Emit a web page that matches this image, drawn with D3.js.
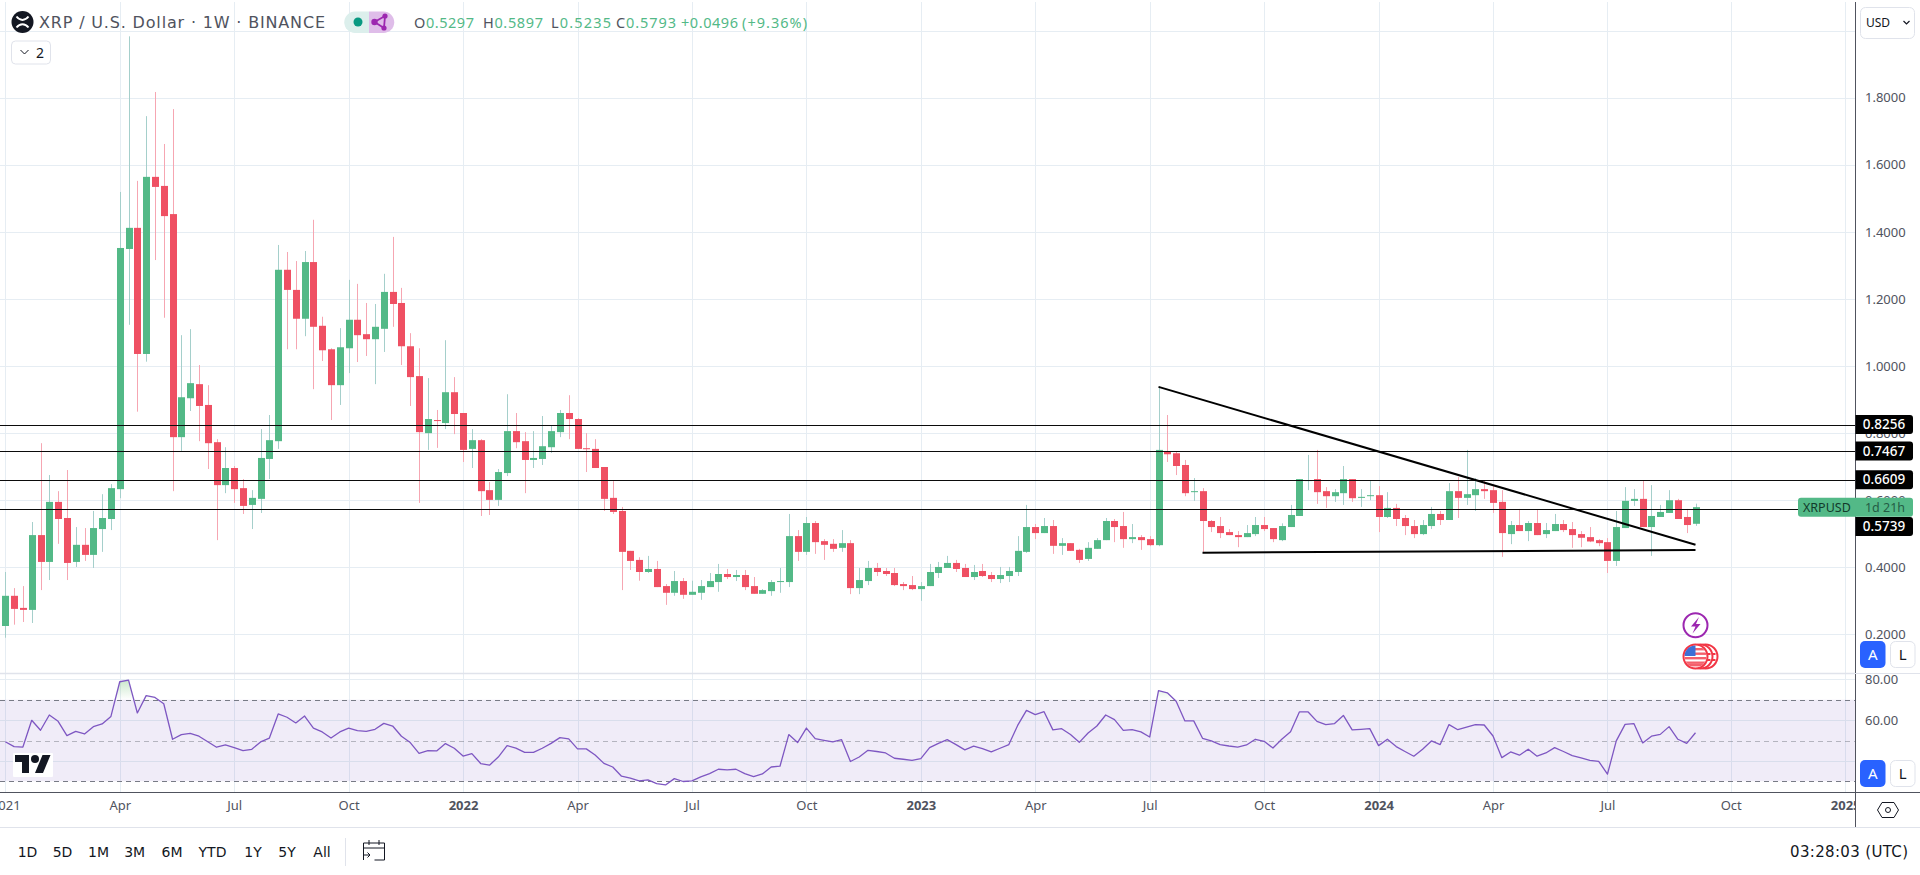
<!DOCTYPE html>
<html>
<head>
<meta charset="utf-8">
<title>XRP / U.S. Dollar 1W</title>
<script src="https://cdnjs.cloudflare.com/ajax/libs/d3/7.8.5/d3.min.js"></script>
<style>
html,body{margin:0;padding:0;background:#fff;overflow:hidden}
svg{display:block}
text{font-family:"Noto Sans",Roboto,sans-serif}
text.dv{font-family:"DejaVu Sans",sans-serif}
</style>
</head>
<body>
<svg id="chart" width="1920" height="875"></svg>
<script>
// ---- weekly candles (index 0 = week of 4 Jan 2021) ----
const opens=[.225,.315,.279,.273,.496,.416,.595,.547,.416,.467,.437,.514,.544,.633,1.349,1.412,1.036,1.564,1.537,1.453,.788,.904,.946,.884,.773,.645,.696,.636,.586,.604,.723,.776,1.287,1.227,1.141,1.31,1.12,1.05,.943,1.053,1.138,1.095,1.08,1.111,1.221,1.188,1.059,.97,.8,.839,.83,.922,.86,.753,.779,.63,.601,.681,.806,.776,.72,.723,.758,.803,.86,.842,.755,.753,.699,.607,.568,.449,.422,
.386,.395,.344,.324,.359,.318,.324,.341,.356,.38,.371,.377,.344,.321,.329,.356,.356,.493,.446,.532,.478,.47,.458,.472,.338,.359,.398,.389,.383,.35,.347,.335,.344,.383,.398,.413,.398,.371,.389,.377,.365,.374,.386,.446,.52,.502,.523,.464,.472,.452,.425,.455,.481,.538,.523,.484,.49,.484,.466,.746,.74,.705,.624,.627,.538,.523,.505,.496,.49,.499,.526,.517,.481,.52,.553,.657,.663,.627,.612,.621,.663,.607,.612,.615,.55,.577,.547,.523,.499,.523,.559,.541,.627,.607,.615,.633,.63,.595,.499,.526,.508,.532,.499,.508,.529,.514,.499,.49,.481,.475,.419,.517,.598,.604,.52,.55,.562,.6,.55,.5297];
const highs=[.386,.338,.344,.535,.77,.675,.627,.69,.52,.517,.568,.618,.648,1.519,1.983,1.552,1.745,1.817,1.662,1.766,1.092,1.11,1.003,.943,.782,.758,.702,.663,.63,.812,.854,1.361,1.34,1.313,1.343,1.436,1.147,1.053,1.113,1.257,1.245,1.188,1.185,1.275,1.385,1.233,1.098,1.053,.964,.869,1.077,.967,.86,.812,.782,.654,.693,.916,.86,.803,.806,.851,.824,.869,.913,.845,.8,.782,.699,.657,.58,.449,.43,
.434,.419,.35,.389,.368,.36,.362,.383,.41,.395,.392,.392,.371,.335,.362,.398,.559,.511,.55,.538,.484,.484,.511,.481,.398,.419,.413,.398,.398,.356,.374,.356,.41,.416,.434,.422,.41,.407,.41,.386,.401,.401,.493,.586,.529,.547,.541,.487,.472,.455,.475,.487,.547,.544,.565,.529,.496,.493,.938,.854,.746,.72,.666,.636,.541,.55,.514,.508,.526,.55,.55,.517,.531,.586,.663,.735,.75,.639,.633,.702,.663,.633,.66,.642,.624,.589,.556,.541,.541,.58,.568,.651,.669,.75,.666,.66,.645,.63,.538,.574,.538,.571,.532,.559,.541,.535,.508,.52,.484,.487,.568,.639,.633,.66,.645,.586,.63,.604,.574,.5897];
const lows=[.19,.229,.237,.234,.332,.362,.47,.362,.401,.419,.398,.446,.511,.606,1.123,.864,1.013,1.316,1.144,.627,.747,.866,.776,.693,.481,.621,.592,.559,.514,.562,.663,.753,1.05,1.05,1.089,.931,1.015,.839,.884,.979,1.012,1.03,.946,1.042,1.117,1.003,.881,.592,.75,.756,.812,.797,.714,.696,.553,.556,.583,.672,.755,.621,.696,.705,.741,.788,.782,.753,.684,.696,.568,.559,.332,.392,.36,
.383,.341,.288,.315,.306,.318,.303,.341,.327,.365,.359,.332,.321,.321,.315,.324,.341,.419,.437,.44,.422,.446,.446,.32,.32,.347,.374,.374,.344,.332,.332,.3,.344,.368,.398,.386,.371,.362,.371,.356,.353,.356,.374,.443,.484,.502,.44,.437,.449,.413,.419,.455,.481,.475,.458,.472,.452,.463,.463,.714,.675,.612,.598,.446,.505,.487,.496,.46,.49,.493,.508,.475,.478,.52,.553,.63,.589,.577,.595,.586,.595,.58,.6,.505,.547,.523,.496,.487,.496,.514,.526,.541,.547,.586,.568,.604,.562,.431,.469,.508,.478,.496,.487,.508,.505,.458,.46,.475,.463,.383,.404,.517,.583,.52,.434,.55,.562,.544,.502,.5235];
const closes=[.315,.276,.273,.496,.416,.595,.544,.413,.467,.437,.517,.547,.636,1.352,1.412,1.036,1.564,1.534,1.447,.788,.907,.949,.881,.77,.645,.696,.633,.583,.607,.726,.779,1.287,1.227,1.141,1.31,1.117,1.047,.943,1.056,1.138,1.092,1.08,1.117,1.221,1.185,1.059,.967,.803,.842,.836,.922,.857,.75,.779,.627,.601,.684,.806,.773,.72,.726,.761,.806,.86,.842,.753,.752,.696,.604,.565,.446,.419,.386,
.395,.341,.324,.359,.318,.327,.344,.359,.38,.371,.377,.341,.321,.332,.356,.359,.493,.446,.532,.475,.467,.455,.472,.338,.362,.398,.386,.38,.347,.344,.335,.344,.386,.401,.413,.395,.371,.386,.374,.365,.377,.389,.449,.52,.502,.523,.464,.472,.449,.422,.458,.481,.538,.52,.484,.49,.481,.466,.75,.737,.702,.621,.627,.538,.52,.502,.496,.49,.502,.526,.514,.484,.523,.556,.663,.66,.624,.612,.624,.663,.606,.61,.615,.55,.577,.544,.523,.499,.526,.559,.541,.627,.607,.618,.633,.627,.592,.502,.526,.508,.532,.496,.511,.529,.511,.496,.488,.477,.472,.419,.52,.598,.604,.52,.553,.565,.6,.544,.526,.5793];
// ---- RSI, one value per candle ----
const rsiValues=[49.4,47,46.8,59.9,55,62.5,59.4,52.4,54.5,53.2,56.8,58.1,61.8,78.8,79.6,63.5,72,71.1,68,50.6,52.9,53.5,52.1,49.4,46.7,47.8,46.5,45,45.7,49.3,51.2,63,61.4,58.6,62,56.1,54.2,51.2,54.2,56.1,54.8,54.5,55.5,58.4,57.1,52.1,49,43.7,45,44.9,48.5,46.2,42.4,43.6,38.7,37.9,41.9,47.5,46.3,44.2,44.2,46.2,48.6,51.4,50.8,45.9,
45.9,42.9,38.8,37,32.5,31.5,30.2,30.7,28.9,28.2,31.3,29.9,30.2,32.2,33.8,35.9,35.6,35.9,33.8,32.3,33.6,37,37.4,52.9,49,56.1,50.9,50.1,49.3,50.4,39.7,41.9,45.2,44.6,43.9,41.3,40.8,40.3,41.1,46.5,48.6,50.4,48,45.4,47.2,46,44.4,46.2,48,57.4,64.8,62.7,64.1,55.2,55.8,52.9,49.1,53.7,57.1,62.5,60.2,55,55.3,54.2,51.7,
74.4,73.4,69.2,59.6,59.6,51.1,49.8,48,47.3,46.8,47.8,50.6,49.6,46.3,50.6,54.3,64,64,59.4,57.8,58.3,62.3,55.2,55.5,55.8,47.5,50.6,47,44.6,42.3,45.7,49.8,48,57.8,55.3,56.5,57.8,57.6,52.2,41.6,44.4,42.8,45.7,42.3,43.9,46.5,44.6,42.6,41.5,40.3,39.8,33.5,49.8,57.9,58.3,48.8,52.1,53,56.8,50.6,48.6,53.8];
// ---- axes and annotations ----
const priceTicks=[1.8,1.6,1.4,1.2,1.0,0.8,0.6,0.4,0.2,2.0];
const rsiTicks=[80,60,40];
const rsiLabelTicks=[80,60];
const rsiBands=[70,50,30];
const timeTickIdx=[0,13,26,39,52,65,78,91,104,117,130,143,156,169,182,196,209];
const timeTickText=["2021","Apr","Jul","Oct","2022","Apr","Jul","Oct","2023","Apr","Jul","Oct","2024","Apr","Jul","Oct","2025"];
const levels=[0.8256,0.7467,0.6609,0.5739];
const levelLabelShift=[0,0,0,17.6];
const trendFalling=[[131,0.938],[192,0.4673]];
const trendFlat=[[136,0.4435],[192,0.4515]];
const lastPrice=0.5793;
const ohlcItems=[["O","0.5297",414],["H","0.5897",483],["L","0.5235",551],["C","0.5793",616]];
const rangeButtons=["1D","5D","1M","3M","6M","YTD","1Y","5Y","All"];
const rangeCenters=[27.5,62.5,98.6,134.7,172,212.5,253,287,322];

const GREEN="#53b987",RED="#ef5063",GREENW="#a5cfcb",REDW="#f6a6b2";
const GRID="#e6edf3",TEXT="#50535e",DARK="#131722",AXISLINE="#50535e";
const AXISX=1855;

const svg=d3.select("#chart");
const defs=svg.append("defs");
defs.append("clipPath").attr("id","mainClip").append("rect").attr("x",0).attr("y",2).attr("width",AXISX).attr("height",671);
defs.append("clipPath").attr("id","rsiClip").append("rect").attr("x",0).attr("y",674).attr("width",AXISX).attr("height",118);

const x=d3.scaleLinear().domain([0,192]).range([5.3,1695.5]);
const y=d3.scaleLinear().domain([0.4,1.8]).range([567.3,97.7]);
const ry=d3.scaleLinear().domain([30,80]).range([781.3,679.3]);

// vertical grid, both panes
const vg=svg.append("g");
vg.selectAll("line").data(timeTickIdx).join("line")
  .attr("x1",d=>Math.round(x(d))+.5).attr("x2",d=>Math.round(x(d))+.5)
  .attr("y1",2).attr("y2",792).attr("stroke",GRID);

// main pane
const main=svg.append("g").attr("clip-path","url(#mainClip)");
main.append("g").selectAll("line").data(priceTicks).join("line")
  .attr("x1",0).attr("x2",AXISX).attr("y1",d=>Math.round(y(d))+.5).attr("y2",d=>Math.round(y(d))+.5)
  .attr("stroke",GRID);

const idx=d3.range(opens.length);
const isUp=i=>closes[i]>=opens[i];
const bodyW=7;
const cx=i=>Math.round(x(i));
main.append("g").selectAll("line").data(idx).join("line")
  .attr("x1",i=>cx(i)+.5).attr("x2",i=>cx(i)+.5)
  .attr("y1",i=>y(highs[i])).attr("y2",i=>y(lows[i]))
  .attr("stroke",i=>isUp(i)?GREENW:REDW);
main.append("g").selectAll("rect").data(idx).join("rect")
  .attr("x",i=>cx(i)-3).attr("width",bodyW)
  .attr("y",i=>Math.min(y(opens[i]),y(closes[i])))
  .attr("height",i=>Math.max(1,Math.abs(y(opens[i])-y(closes[i]))))
  .attr("fill",i=>isUp(i)?GREEN:RED);

// drawn levels and trend lines
main.append("g").selectAll("line").data(levels).join("line")
  .attr("x1",0).attr("x2",AXISX).attr("y1",d=>Math.round(y(d))+.5).attr("y2",d=>Math.round(y(d))+.5)
  .attr("stroke","#0b0b0b");
const tl=d3.line().x(d=>x(d[0])).y(d=>y(d[1]));
main.append("path").attr("d",tl(trendFalling)).attr("stroke","#000").attr("stroke-width",2).attr("fill","none");
main.append("path").attr("d",tl(trendFlat)).attr("stroke","#000").attr("stroke-width",2).attr("fill","none");

// pane separator
svg.append("line").attr("x1",0).attr("x2",AXISX).attr("y1",673.5).attr("y2",673.5).attr("stroke","#e0e3eb").attr("stroke-width",1.5);

// RSI pane
const rsi=svg.append("g").attr("clip-path","url(#rsiClip)");
rsi.append("rect").attr("x",0).attr("width",AXISX).attr("y",ry(70)).attr("height",ry(30)-ry(70)).attr("fill","#7e57c2").attr("fill-opacity",.115);
rsi.append("g").selectAll("line").data(rsiTicks).join("line")
  .attr("x1",0).attr("x2",AXISX).attr("y1",d=>Math.round(ry(d))+.5).attr("y2",d=>Math.round(ry(d))+.5)
  .attr("stroke",d=>d===80?GRID:"#d9deec");
rsi.append("g").selectAll("line").data(rsiBands).join("line")
  .attr("x1",0).attr("x2",AXISX).attr("y1",d=>Math.round(ry(d))+.5).attr("y2",d=>Math.round(ry(d))+.5)
  .attr("stroke","#787b86").attr("stroke-opacity",d=>d===50?.5:1).attr("stroke-dasharray","5 4");

const gOb=defs.append("linearGradient").attr("id","obGrad").attr("gradientUnits","userSpaceOnUse")
  .attr("x1",0).attr("x2",0).attr("y1",ry(80)).attr("y2",ry(70));
gOb.append("stop").attr("offset",0).attr("stop-color","#4caf50").attr("stop-opacity",.3);
gOb.append("stop").attr("offset",1).attr("stop-color","#4caf50").attr("stop-opacity",0);
defs.append("clipPath").attr("id","obClip").append("rect").attr("x",0).attr("y",674).attr("width",AXISX).attr("height",ry(70)-674);
rsi.append("path").attr("clip-path","url(#obClip)")
  .attr("d",d3.area().x((d,i)=>x(i)).y0(ry(70)).y1(d=>ry(d))(rsiValues)).attr("fill","url(#obGrad)");
rsi.append("path")
  .attr("d",d3.line().x((d,i)=>x(i)).y(d=>ry(d))(rsiValues))
  .attr("fill","none").attr("stroke","#7e57c2").attr("stroke-width",1.3).attr("stroke-linejoin","round");

// watermark
const wm=svg.append("g").attr("transform","translate(15,751)");
wm.append("rect").attr("x",-2).attr("y",2).attr("width",40).attr("height",24).attr("fill","#fff").attr("rx",1);
wm.append("path").attr("d","M14 22H7V11H0V4h14v18zM28 22h-8l7.5-18h8L28 22z").attr("fill","#131722");
wm.append("circle").attr("cx",20).attr("cy",8).attr("r",4).attr("fill","#131722");

// frame lines
svg.append("line").attr("x1",0).attr("x2",1920).attr("y1",792.5).attr("y2",792.5).attr("stroke",AXISLINE);
svg.append("line").attr("x1",0).attr("x2",1920).attr("y1",827.5).attr("y2",827.5).attr("stroke","#e0e3eb");
svg.append("line").attr("x1",AXISX+.5).attr("x2",AXISX+.5).attr("y1",2).attr("y2",827).attr("stroke",AXISLINE);
svg.append("line").attr("x1",AXISX).attr("x2",1920).attr("y1",673.5).attr("y2",673.5).attr("stroke","#e0e3eb");

// price axis
const pa=d3.axisRight(y).tickValues(priceTicks.filter(d=>d<2)).tickFormat(d3.format(".4f")).tickSize(0).tickPadding(10);
const paG=svg.append("g").attr("transform",`translate(${AXISX},0)`).call(pa);
paG.select(".domain").remove();
paG.selectAll("text").attr("fill",TEXT).attr("font-size",13).style("font-family",'"Noto Sans",Roboto,sans-serif');

// rsi axis
const ra=d3.axisRight(ry).tickValues(rsiLabelTicks).tickFormat(d3.format(".2f")).tickSize(0).tickPadding(10);
const raG=svg.append("g").attr("transform",`translate(${AXISX},0)`).call(ra);
raG.select(".domain").remove();
raG.selectAll("text").attr("fill",TEXT).attr("font-size",13).style("font-family",'"Noto Sans",Roboto,sans-serif');

// time axis
const ta=d3.axisBottom(x).tickValues(timeTickIdx).tickFormat((d,i)=>timeTickText[i]).tickSize(0).tickPadding(9);
const taG=svg.append("g").attr("transform","translate(0,792)").attr("clip-path","url(#timeClipLocal)").call(ta);
defs.append("clipPath").attr("id","timeClipLocal").append("rect").attr("x",0).attr("y",1).attr("width",AXISX).attr("height",34);
taG.select(".domain").remove();
taG.selectAll("text").attr("fill",TEXT).attr("font-size",13).style("font-family",'"Noto Sans",Roboto,sans-serif')
  .attr("font-weight",(d,i)=>/^\d/.test(timeTickText[i])&&i>0?700:400);

// level tags
const tagG=svg.append("g");
function rightTag(cy,fill,txt,color){
  const g=tagG.append("g");
  g.append("path").attr("d",`M${AXISX+.5} ${cy-9.5}H1910a3 3 0 0 1 3 3v13a3 3 0 0 1 -3 3H${AXISX+.5}z`).attr("fill",fill);
  g.append("text").attr("x",1884).attr("y",cy+4.7).attr("text-anchor","middle").attr("font-size",13.5).attr("font-weight",500).attr("fill",color).text(txt);
}
levels.forEach((d,i)=>rightTag(y(d)+levelLabelShift[i],"#000",d.toFixed(4),"#fff"));
const lastY=y(lastPrice);
tagG.append("path").attr("d",`M1801 ${lastY-9.5}H1910a3 3 0 0 1 3 3v13a3 3 0 0 1 -3 3H1801a3 3 0 0 1 -3 -3v-13a3 3 0 0 1 3 -3z`).attr("fill",GREEN);
tagG.append("text").attr("x",1803).attr("y",lastY+4.5).attr("font-size",12.5).attr("fill","#123b2b").text("XRPUSD");
tagG.append("text").attr("x",1885).attr("y",lastY+4.5).attr("text-anchor","middle").attr("font-size",12.5).attr("fill","#245c45").text("1d 21h");

// header
const hd=svg.append("g");
hd.append("circle").attr("cx",22.5).attr("cy",22).attr("r",11).attr("fill","#131722");
hd.append("path").attr("d","M16.5 16.5c3.5 4.5 8.5 4.5 12 0M16.5 27.5c3.5-4.5 8.5-4.5 12 0").attr("stroke","#fff").attr("stroke-width",2).attr("fill","none");
hd.append("text").attr("class","dv").attr("x",39).attr("y",28).attr("font-size",16).attr("textLength",286).attr("fill",TEXT).text("XRP / U.S. Dollar · 1W · BINANCE");
hd.append("path").attr("d","M369 11.5h-14a10.75 10.75 0 0 0 0 21.5h14z").attr("fill","#dcefec");
hd.append("path").attr("d","M369 11.5h14.5a10.75 10.75 0 0 1 0 21.5H369z").attr("fill","#dfbde9");
hd.append("circle").attr("cx",358).attr("cy",22).attr("r",4.5).attr("fill","#089981");
hd.append("path").attr("d","M385 16L374.5 22L384 28Z").attr("stroke","#9c27b0").attr("stroke-width",1.8).attr("fill","none");
[[385,16,2.6],[374.5,22,3.2],[384,28,2.6]].forEach(c=>hd.append("circle").attr("cx",c[0]).attr("cy",c[1]).attr("r",c[2]).attr("fill","#9c27b0"));
ohlcItems.forEach(d=>{
  const t=hd.append("text").attr("x",d[2]).attr("y",27.5).attr("font-size",14.5).attr("textLength",60);
  t.append("tspan").attr("fill",TEXT).text(d[0]);
  t.append("tspan").attr("fill",GREEN).text(d[1]);
});
hd.append("text").attr("x",681).attr("y",27.5).attr("font-size",14.5).attr("textLength",57).attr("fill",GREEN).text("+0.0496");
hd.append("text").attr("x",742).attr("y",27.5).attr("font-size",14.5).attr("textLength",65).attr("fill",GREEN).text("(+9.36%)");
// collapse button
hd.append("rect").attr("x",11.5).attr("y",41).attr("width",39).attr("height",23).attr("rx",4).attr("fill","#fff").attr("stroke","#e0e3eb");
hd.append("path").attr("d","M20.5 50l4 4l4-4").attr("stroke",DARK).attr("fill","none");
hd.append("text").attr("x",36).attr("y",58).attr("font-size",14).attr("fill",DARK).text("2");
// USD selector
hd.append("rect").attr("x",1860.5).attr("y",7.5).attr("width",54).attr("height",31).attr("rx",5).attr("fill","#fff").attr("stroke","#e0e3eb");
hd.append("text").attr("x",1866).attr("y",27).attr("font-size",12).attr("fill",DARK).text("USD");
hd.append("path").attr("d","M1903.5 21l3 3l3-3").attr("stroke",DARK).attr("stroke-width",1.2).attr("fill","none");

// A / L buttons
[641,760].forEach(top=>{
  hd.append("rect").attr("x",1860).attr("y",top).attr("width",25.5).attr("height",27).attr("rx",5).attr("fill","#2962ff");
  hd.append("text").attr("x",1872.7).attr("y",top+19).attr("text-anchor","middle").attr("font-size",15).attr("fill","#fff").text("A");
  hd.append("rect").attr("x",1890.5).attr("y",top+.5).attr("width",24.5).attr("height",26).attr("rx",5).attr("fill","#fff").attr("stroke","#e0e3eb");
  hd.append("text").attr("x",1902.7).attr("y",top+19).attr("text-anchor","middle").attr("font-size",15).attr("fill",DARK).text("L");
});

// event icons
const ev=svg.append("g");
ev.append("circle").attr("cx",1695.5).attr("cy",625.3).attr("r",12).attr("fill","#fff").attr("stroke","#9c27b0").attr("stroke-width",2);
ev.append("path").attr("d","M1699 617L1691 626.5H1695.5L1692.5 633.5L1700.5 624H1696Z").attr("fill","#9c27b0");
const flagClip=defs.append("clipPath").attr("id","flagClip");
flagClip.append("circle").attr("cx",1695.5).attr("cy",656.5).attr("r",11);
[1705.5,1700.5].forEach(c=>{
  ev.append("circle").attr("cx",c).attr("cy",656.5).attr("r",12).attr("fill","#fff").attr("stroke","#f23645").attr("stroke-width",2);
  ev.append("rect").attr("x",c+3).attr("y",653).attr("width",7).attr("height",2).attr("fill","#f23645");
  ev.append("rect").attr("x",c+3).attr("y",659).attr("width",7).attr("height",2).attr("fill","#f23645");
});
ev.append("circle").attr("cx",1695.5).attr("cy",656.5).attr("r",12).attr("fill","#fff").attr("stroke","#f23645").attr("stroke-width",2);
const fl=ev.append("g").attr("clip-path","url(#flagClip)");
[648,652.5,657,661.5,664].forEach((yy,i)=>fl.append("rect").attr("x",1684).attr("y",yy).attr("width",23).attr("height",2.4).attr("fill","#f4606c"));
fl.append("rect").attr("x",1684).attr("y",645).attr("width",11.5).attr("height",11).attr("fill","#3c6fd6");

// bottom toolbar
const tb=svg.append("g");
tb.selectAll("text.range").data(rangeButtons).join("text").attr("class","dv range")
  .attr("x",(d,i)=>rangeCenters[i]).attr("y",857).attr("text-anchor","middle").attr("font-size",14).attr("fill",DARK).text(d=>d);
tb.append("line").attr("x1",345.5).attr("x2",345.5).attr("y1",838).attr("y2",866).attr("stroke","#e0e3eb");
tb.append("path").attr("d","M363.5 860v-17h21v17h-10M363.5 848h21M369 840v5M379 840v5M363.5 855h6.5m-2.5-2.5l2.5 2.5l-2.5 2.5")
  .attr("fill","none").attr("stroke",DARK).attr("stroke-width",1);
tb.append("text").attr("class","dv").attr("x",1790).attr("y",857).attr("font-size",15).attr("textLength",118).attr("fill",DARK).text("03:28:03 (UTC)");
tb.append("path").attr("d","M1882 802.5h12l4.5 7.5l-4.5 7.5h-12l-4.5-7.5z").attr("fill","none").attr("stroke",DARK).attr("stroke-width",1);
tb.append("circle").attr("cx",1888).attr("cy",810).attr("r",2.5).attr("fill","none").attr("stroke",DARK);
</script>
</body>
</html>
